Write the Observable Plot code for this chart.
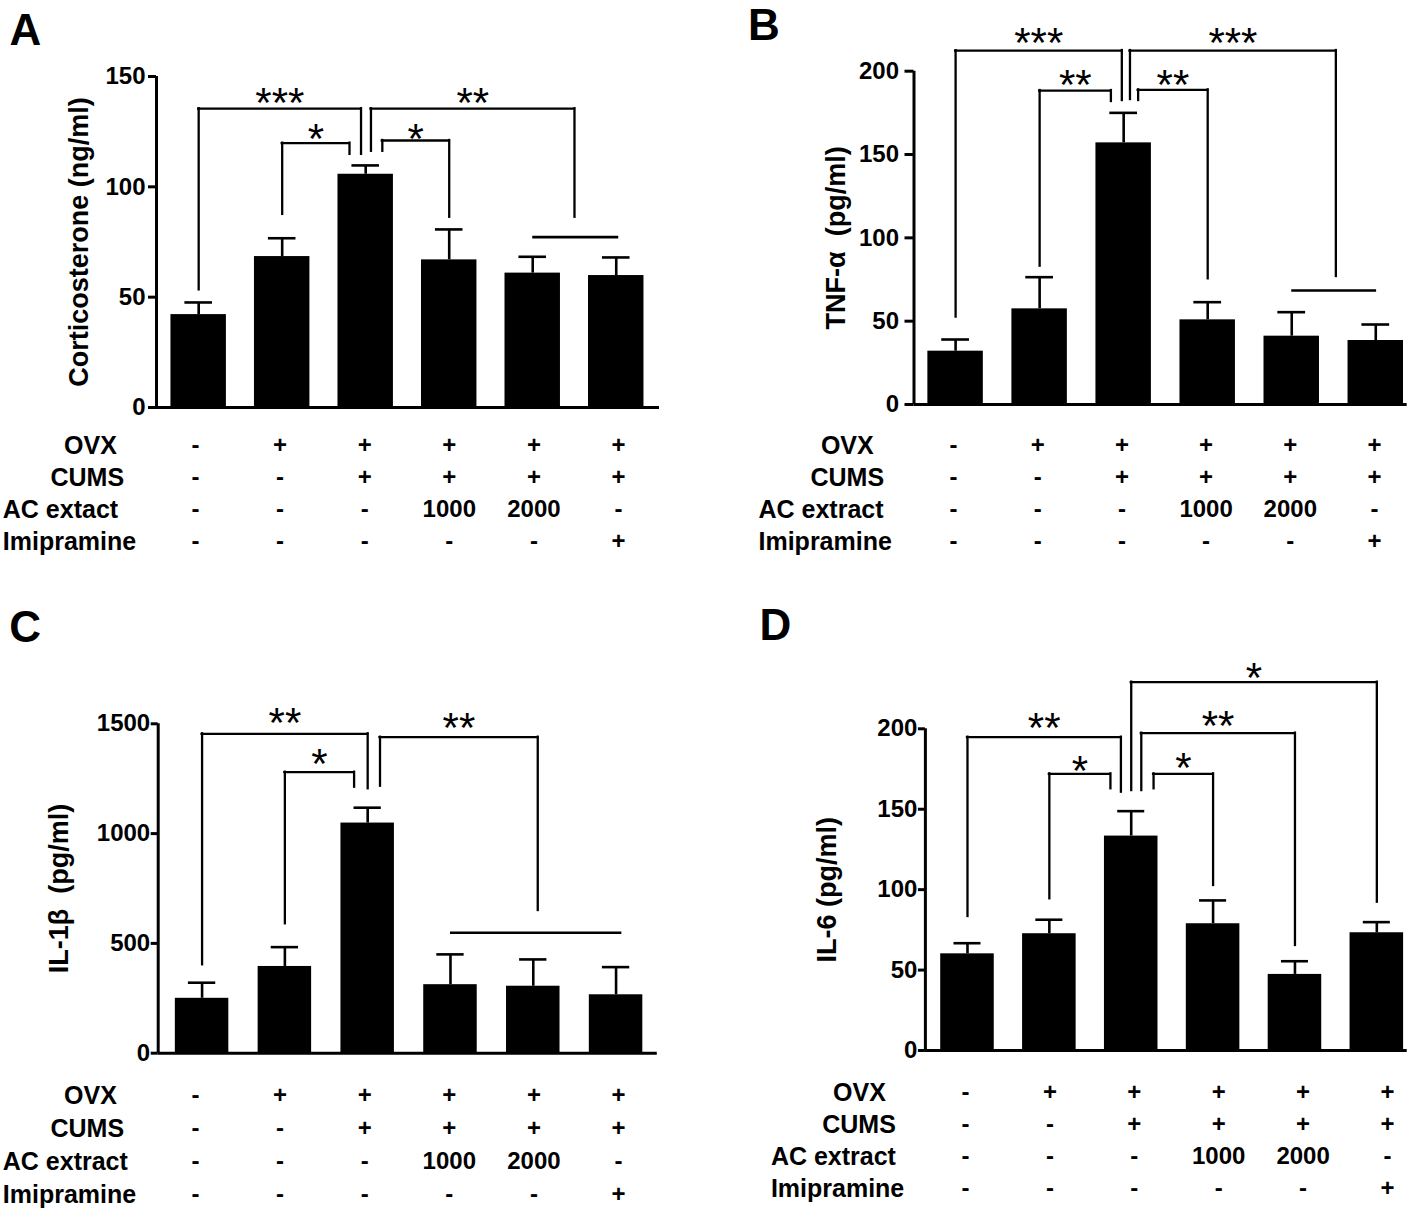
<!DOCTYPE html>
<html><head><meta charset="utf-8">
<script src="https://cdn.jsdelivr.net/npm/d3@7"></script>
<script src="https://cdn.jsdelivr.net/npm/@observablehq/plot@0.6"></script>
<style>
body{margin:0;background:#fff;}
#root{position:relative;width:1418px;height:1210px;overflow:hidden;background:#fff;}
#root svg{position:absolute;overflow:visible;background:transparent;max-width:none;}
</style></head><body><div id="root"></div>
<script>
// ---------- data ----------
const cortMeans = [42.1, 68.4, 105.7, 66.9, 60.9, 59.8];
const cortSEM   = [5.5, 8.3, 4.0, 13.8, 7.4, 8.2];
const tnfMeans  = [32.0, 57.4, 157.0, 50.8, 41.0, 38.4];
const tnfSEM    = [7.0, 19.0, 18.0, 10.6, 14.4, 9.6];
const il1bMeans = [250, 395, 1048, 312, 305, 266];
const il1bSEM   = [71, 88, 70, 138, 122, 126];
const il6Means  = [60.1, 72.6, 133.3, 78.8, 47.3, 73.2];
const il6SEM    = [6.6, 8.7, 15.5, 14.5, 8.2, 6.6];

const ovx        = ["-", "+", "+", "+", "+", "+"];
const cums       = ["-", "-", "+", "+", "+", "+"];
const acExtract  = ["-", "-", "-", "1000", "2000", "-"];
const imipramine = ["-", "-", "-", "-", "-", "+"];
const rowLabelsA = ["OVX", "CUMS", "AC extact", "Imipramine"];
const rowLabels  = ["OVX", "CUMS", "AC extract", "Imipramine"];

const ticksA = [0, 50, 100, 150];
const ticksB = [0, 50, 100, 150, 200];
const ticksC = [0, 500, 1000, 1500];
const ticksD = [0, 50, 100, 150, 200];

const titleA = "Corticosterone (ng/ml)";
const titleB = "TNF-\u03b1  (pg/ml)";
const titleC = "IL-1\u03b2  (pg/ml)";
const titleD = "IL-6 (pg/ml)";

// significance brackets: a/b = group positions of the legs, y = bar level,
// ya/yb = lower ends of legs, ly = label level
const bracketsA = [
  {a: 0, b: 1.944, y: 135.4, ya: 53.3, yb: 114.7, label: "***", ly: 142.7},
  {a: 2.063, b: 4.5, y: 135.4, ya: 116.1, yb: 86.2, label: "**", ly: 142.7},
  {a: 1, b: 1.806, y: 119.8, ya: 87.5, yb: 114.7, label: "*", ly: 126.4},
  {a: 2.199, b: 3, y: 121, ya: 116.1, yb: 86.2, label: "*", ly: 126.4}
];
const groupLineA = [{a: 4, b: 5.03, y: 77.2}];

const bracketsB = [
  {a: 0, b: 1.978, y: 212.4, ya: 52.4, yb: 182.4, label: "***", ly: 223.4},
  {a: 2.075, b: 4.525, y: 212.4, ya: 183, yb: 76.8, label: "***", ly: 223.4},
  {a: 1, b: 1.848, y: 188.4, ya: 83, yb: 181.8, label: "**", ly: 198},
  {a: 2.172, b: 3, y: 188.8, ya: 182.4, yb: 75.4, label: "**", ly: 198}
];
const groupLineB = [{a: 4, b: 5.01, y: 68.4}];

const bracketsC = [
  {a: 0, b: 2, y: 1454.5, ya: 402.6, yb: 1204, label: "**", ly: 1552.8},
  {a: 2.149, b: 4.054, y: 1439, ya: 1215.8, yb: 649.8, label: "**", ly: 1527},
  {a: 1, b: 1.836, y: 1279.6, ya: 589.3, yb: 1211.3, label: "*", ly: 1363.4}
];
const groupLineC = [{a: 3, b: 5.07, y: 548.3}];

const bracketsD = [
  {a: 0, b: 1.874, y: 194.8, ya: 83.3, yb: 160.6, label: "**", ly: 207.2},
  {a: 1, b: 1.746, y: 172, ya: 94.3, yb: 162.7, label: "*", ly: 180.3},
  {a: 2.123, b: 4, y: 197.3, ya: 161.6, yb: 65.3, label: "**", ly: 208.3},
  {a: 2.273, b: 3, y: 172, ya: 162.7, yb: 102.6, label: "*", ly: 182.3},
  {a: 2, b: 5, y: 229, ya: 161.6, yb: 92.2, label: "*", ly: 238.3}
];
const groupLineD = [];

// ---------- layout ----------
const FONT = "'Liberation Sans', Arial, Helvetica, sans-serif";
const root = document.getElementById("root");

function place(svg, left, top) {
  svg.style.position = "absolute";
  svg.style.left = left + "px";
  svg.style.top = top + "px";
  svg.style.overflow = "visible";
  svg.style.background = "transparent";
  root.appendChild(svg);
}

function chart(c) {
  const data = c.means.map((m, i) => ({i, m, top: m + c.sems[i]}));
  const lo = c.xDomain[0];
  const ymax = c.yDomain[1];
  const cap = 0.165;
  const line = {stroke: "black", strokeWidth: 2.3, strokeLinecap: "square"};
  const svg = Plot.plot({
    width: c.width, height: c.height,
    marginLeft: c.ml, marginRight: c.mr, marginTop: c.mt, marginBottom: c.mb,
    x: {type: "linear", domain: c.xDomain, axis: null},
    y: {type: "linear", domain: c.yDomain},
    style: {fontFamily: FONT, fontSize: "24px", fontWeight: "bold", color: "black", background: "transparent", overflow: "visible"},
    marks: [
      Plot.rect(data, {x1: d => d.i - c.hw, x2: d => d.i + c.hw, y1: 0, y2: "m", fill: "black"}),
      Plot.ruleX(data, {x: "i", y1: "m", y2: "top", stroke: "black", strokeWidth: 2.6}),
      Plot.ruleY(data, {y: "top", x1: d => d.i - cap, x2: d => d.i + cap, stroke: "black", strokeWidth: 2.6}),
      Plot.ruleX([lo], {y1: 0, y2: ymax, stroke: "black", strokeWidth: 3}),
      Plot.ruleY([0], {stroke: "black", strokeWidth: 3}),
      Plot.axisY({ticks: c.ticks, tickSize: c.tickSize, tickPadding: c.tickPadding, tickFormat: d => `${d}`,
                  strokeWidth: 3, fontSize: 24, fontWeight: "bold", label: null}),
      Plot.ruleY(c.brackets, {y: "y", x1: "a", x2: "b", ...line}),
      Plot.ruleX(c.brackets, {x: "a", y1: "ya", y2: "y", ...line}),
      Plot.ruleX(c.brackets, {x: "b", y1: "yb", y2: "y", ...line}),
      Plot.text(c.brackets, {x: d => (d.a + d.b) / 2, y: "ly", text: "label", fontSize: 42, fontWeight: "normal", dy: 11}),
      Plot.ruleY(c.lines, {y: "y", x1: "a", x2: "b", stroke: "black", strokeWidth: 2.6}),
      Plot.text([c.title], {frameAnchor: "left", rotate: -90, dx: c.titleDx, fontSize: 27, fontWeight: "bold",
                            textAnchor: "middle", lineAnchor: "middle"}),
      Plot.text([c.letter], {frameAnchor: "top-left", dx: c.letterDx, dy: c.letterDy, fontSize: 44, fontWeight: "bold",
                             textAnchor: "start", lineAnchor: "top"})
    ]
  });
  place(svg, c.left, c.top);
}

function table(t, labels) {
  const cols = [ovx, cums, acExtract, imipramine];
  const cells = [];
  cols.forEach((vals, r) => vals.forEach((v, k) => cells.push({row: labels[r], col: k, v})));
  const svg = Plot.plot({
    width: t.width, height: t.height, margin: 0,
    x: {type: "linear", domain: [0, 5], range: t.cols, axis: null},
    y: {type: "point", domain: labels, range: t.rows, padding: 0, axis: null},
    style: {fontFamily: FONT, fontWeight: "bold", color: "black", background: "transparent", overflow: "visible"},
    marks: [
      Plot.text(cells, {x: "col", y: "row", text: "v", fontSize: 24, fontWeight: "bold", lineAnchor: "middle"}),
      ...labels.map((l, k) => Plot.text([l], {y: d => d, text: d => d, frameAnchor: "left", dx: t.labelX[k],
                                              textAnchor: "start", lineAnchor: "middle", fontSize: 25, fontWeight: "bold"}))
    ]
  });
  place(svg, t.left, t.top);
}

chart({left: 0, top: 0, width: 700, height: 420, ml: 156, mr: 41, mt: 76, mb: 13,
       xDomain: [-0.505, 5.518], hw: 0.332, yDomain: [0, 150], ticks: ticksA, tickSize: 8, tickPadding: 3,
       means: cortMeans, sems: cortSEM, brackets: bracketsA, lines: groupLineA,
       title: titleA, titleDx: -77.5, letter: "A", letterDx: -147, letterDy: -63});
chart({left: 709, top: 0, width: 709, height: 420, ml: 204.5, mr: 11.3, mt: 70.7, mb: 16,
       xDomain: [-0.495, 5.374], hw: 0.33, yDomain: [0, 200], ticks: ticksB, tickSize: 9, tickPadding: 6,
       means: tnfMeans, sems: tnfSEM, brackets: bracketsB, lines: groupLineB,
       title: titleB, titleDx: -77.5, letter: "B", letterDx: -166, letterDy: -62.7});
chart({left: 0, top: 600, width: 700, height: 470, ml: 157.7, mr: 43.2, mt: 123.3, mb: 17.3,
       xDomain: [-0.53, 5.498], hw: 0.323, yDomain: [0, 1500], ticks: ticksC, tickSize: 7, tickPadding: 1,
       means: il1bMeans, sems: il1bSEM, brackets: bracketsC, lines: groupLineC,
       title: titleC, titleDx: -98.7, letter: "C", letterDx: -149, letterDy: -113.3});
chart({left: 709, top: 600, width: 709, height: 470, ml: 215.9, mr: 11.3, mt: 128.3, mb: 20,
       xDomain: [-0.514, 5.371], hw: 0.327, yDomain: [0, 200], ticks: ticksD, tickSize: 7, tickPadding: 1,
       means: il6Means, sems: il6SEM, brackets: bracketsD, lines: groupLineD,
       title: titleD, titleDx: -97.9, letter: "D", letterDx: -166, letterDy: -120.3});

table({left: 0, top: 420, width: 700, height: 150, cols: [195, 618], rows: [23.3, 121.7], labelX: [63.6, 50, 2.3, 2.3]}, rowLabelsA);
table({left: 709, top: 420, width: 709, height: 150, cols: [244, 665], rows: [23.3, 121.7], labelX: [111.4, 101, 49, 49]}, rowLabels);
table({left: 0, top: 1070, width: 700, height: 140, cols: [195, 618], rows: [24, 124], labelX: [63.6, 50, 2.3, 2.3]}, rowLabels);
table({left: 709, top: 1060, width: 709, height: 150, cols: [256, 678], rows: [31.7, 128.3], labelX: [123.6, 112.7, 61.4, 61.4]}, rowLabels);
</script></body></html>
